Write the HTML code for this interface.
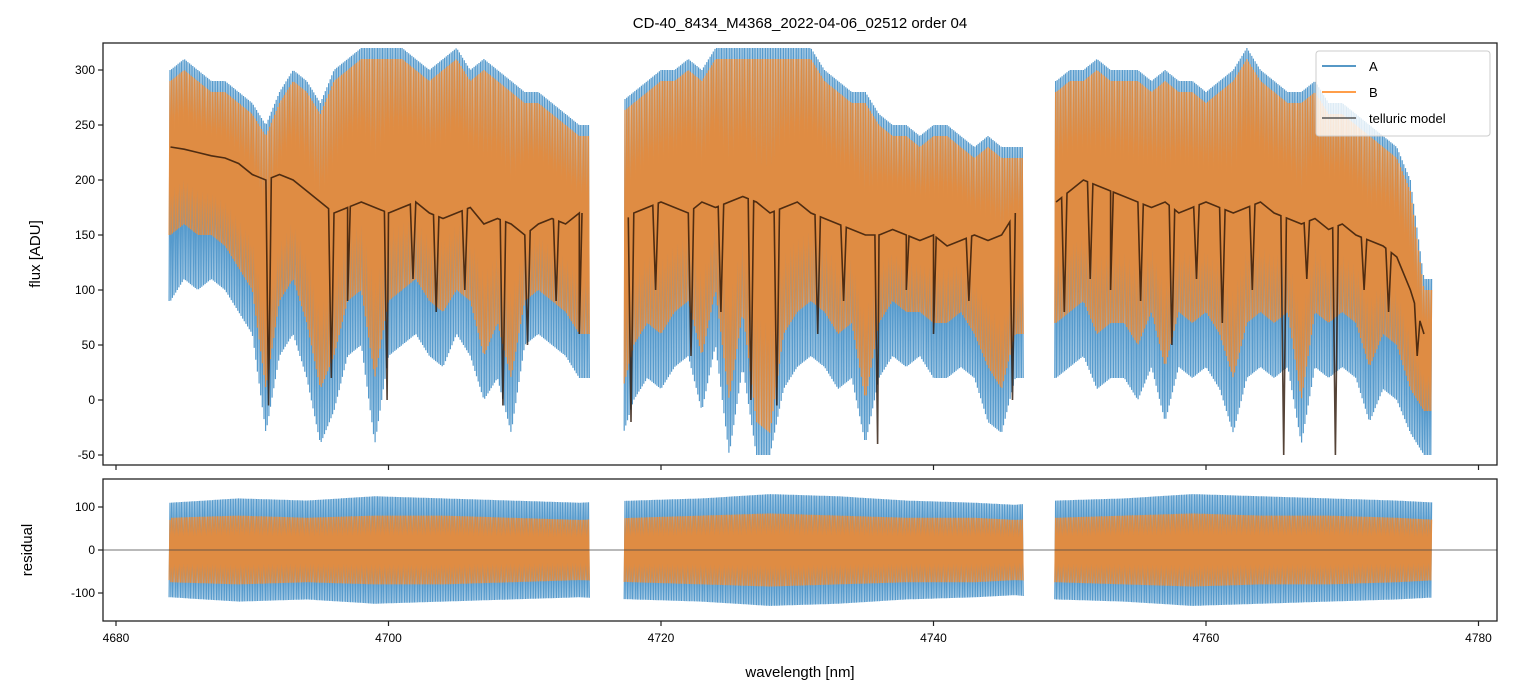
<!DOCTYPE html>
<html><head><meta charset="utf-8"><style>
body{margin:0;background:#fff}
svg{display:block;font-family:"Liberation Sans","DejaVu Sans",sans-serif}
</style></head><body>
<svg id="c" width="1514" height="696" viewBox="0 0 1514 696">
<defs>
<clipPath id="ct"><rect x="103" y="43" width="1394" height="422"/></clipPath>
<clipPath id="cb"><rect x="103" y="479" width="1394" height="142"/></clipPath>
</defs>
<rect width="1514" height="696" fill="#fff"/>
<text x="800" y="28" text-anchor="middle" font-size="15">CD-40_8434_M4368_2022-04-06_02512  order 04</text>
<g id="topg" clip-path="url(#ct)"></g>
<g id="botg" clip-path="url(#cb)"></g>
<g id="axes"></g>
<text x="40" y="254" text-anchor="middle" font-size="15" transform="rotate(-90 40 254)">flux [ADU]</text>
<text x="32" y="550" text-anchor="middle" font-size="15" transform="rotate(-90 32 550)">residual</text>
<text x="800" y="677" text-anchor="middle" font-size="15">wavelength [nm]</text>
<g>
<rect x="1316" y="51" width="174" height="85" rx="3" fill="#fff" fill-opacity="0.8" stroke="#ccc"/>
<line x1="1322" y1="66" x2="1356" y2="66" stroke="#1f77b4" stroke-width="1.5"/>
<text x="1369" y="71" font-size="13">A</text>
<line x1="1322" y1="92" x2="1356" y2="92" stroke="#ff7f0e" stroke-width="1.5"/>
<text x="1369" y="97" font-size="13">B</text>
<line x1="1322" y1="118" x2="1356" y2="118" stroke="#555" stroke-width="1.5"/>
<text x="1369" y="123" font-size="13">telluric model</text>
</g>
</svg>
<script>
const segs=[[4683.9,4714.8],[4717.3,4746.6],[4748.9,4776.6]];
const grid0=4684;
const aHi=[300,310,300,290,290,280,270, 250,280,300,290,270,300,310,320,320,320, 320,310,300,310,320,300,310,300,290,280, 280,270,260,250, null,null, 270,280,290,300, 300,310,300,320,320,320,320,320,320,320, 320,300,290,280,280,260,250,250,240,250, 250,240,230,240,230,230, null,null, 290,300,300,310,300,300,300,290,300,290,290,280, 290,300,320,300,290,280,280,290,270,270,260,250,240,230,200,110];
const aLo=[90,110,100,110,100,80,60, -30,40,60,20,-40,-10,40,50,-40,40, 50,60,40,30,60,40,0,20,-30,50, 60,50,40,20, null,null, -40,0,20,10, 30,40,-10,50,-50,30,-50,-50,10,30, 40,30,10,20,-40,20,40,30,40,20, 20,30,20,-20,-30,20, null,null, 20,30,40,10,20,20,0,30,-20,30,20,30, 10,-30,20,30,20,30,-40,30,20,30,20,-20,10,0,-30,-50];
const bHi=[290,300,290,280,280,270,260, 240,270,290,280,260,290,300,310,310,310, 310,300,290,300,310,290,300,290,280,270, 270,260,250,240, null,null, 260,270,280,290, 290,300,290,310,310,310,310,310,310,310, 310,290,280,270,270,250,240,240,230,240, 240,230,220,230,220,220, null,null, 280,290,290,300,290,290,290,280,290,280,280,270, 280,290,310,290,280,270,270,280,260,260,250,240,230,220,190,100];
const bLo=[150,160,150,150,140,120,100, 10,90,110,70,10,40,90,100,20,90, 100,110,90,80,100,90,40,70,20,90, 100,90,80,60, null,null, 0,50,70,60, 80,90,40,100,0,80,-20,-30,60,80, 90,80,60,70,0,70,90,80,80,70, 70,80,60,30,10,60, null,null, 70,80,90,60,70,70,50,80,30,80,70,80, 60,20,70,80,70,80,0,80,70,80,70,30,60,50,10,-10];
const mBase=[230,228,225,222,220,215,205, 200,205,200,190,180,170,175,180,175,170, 175,180,170,165,170,175,160,165,160,150, 160,165,160,170, null,null, 160,170,175,180, 175,170,180,175,180,185,180,170,175,180, 170,165,160,155,150,150,155,150,145,150, 140,145,150,145,150,170, null,null, 180,190,200,195,190,185,180,175,180,170,175,180, 175,170,175,180,170,165,160,165,155,160,150,145,140,130,100,60];
const dipW=[4691.2,4695.8,4697.0,4699.9,4701.8,4703.5,4705.6,4708.4,4710.2,4712.3,4714.0,4717.8,4719.6,4722.2,4724.4,4726.6,4728.5,4731.5,4733.4,4735.9,4738.0,4740.0,4742.6,4745.8,4749.6,4751.5,4753.0,4755.2,4757.5,4759.3,4761.2,4763.4,4765.7,4767.4,4769.5,4771.6,4773.4,4775.5];
const dipV=[-5,20,90,0,110,80,100,-5,50,90,60,-20,100,40,80,0,-5,60,90,-40,100,60,90,0,80,110,100,90,50,110,70,100,-50,110,-50,100,80,40];
const rW=[4684,4689,4694,4699,4704,4709,4714,4718,4723,4728,4733,4738,4743,4746,4749,4754,4759,4764,4769,4774,4777];
const rAamp=[110,120,115,125,120,115,110,115,120,130,125,115,110,105,115,120,130,125,120,115,110];
const rBamp=[75,80,75,80,80,75,70,75,80,85,80,75,75,70,75,80,85,80,80,75,70];
const xTicks=[4680,4700,4720,4740,4760,4780];
const yTicks=[-50,0,50,100,150,200,250,300];
const rTicks=[-100,0,100];

const NS='http://www.w3.org/2000/svg';
const X=w=>116+(w-4680)*13.625;
const Y=v=>400-v*1.1;
const R=v=>550-v*0.43;
function mk(tag,at,par){const e=document.createElementNS(NS,tag);for(const k in at)e.setAttribute(k,at[k]);par.appendChild(e);return e;}
const topG=document.getElementById('topg'),botG=document.getElementById('botg'),ax=document.getElementById('axes');
function interp(arr,w){const f=w-grid0,i=Math.floor(f),t=f-i;const a=arr[Math.max(i,0)],b=arr[i+1];if(a==null)return b;if(b==null)return a;return a+(b-a)*t;}
function band(hi,lo,col,op,name){
  segs.forEach(s=>{
    let d='',st=0.06,k=0;
    for(let w=s[0];w<=s[1];w+=st,k++){
      const v=(k%2?interp(hi,w):interp(lo,w));
      d+=(d?'L':'M')+X(w).toFixed(1)+' '+Y(v).toFixed(1);
    }
    const p=mk('path',{d:d,fill:'none',stroke:col,'stroke-width':1.2,'stroke-opacity':op},topG);
    
    
  });
}
band(aHi,aLo,'#3a89c4',0.85,'series-a');
band(bHi,bLo,'#f7892a',0.85,'series-b');
segs.forEach(s=>{
  const pts=[];
  for(let w=Math.ceil(s[0]);w<=Math.floor(s[1]);w++)pts.push([w,mBase[w-grid0]]);
  dipW.forEach((dw,j)=>{if(dw>=s[0]&&dw<=s[1]){pts.push([dw-0.2,interp(mBase,dw-0.2)]);pts.push([dw,dipV[j]]);pts.push([dw+0.2,interp(mBase,dw+0.2)]);}});
  pts.sort((a,b)=>a[0]-b[0]);
  const d=pts.map((p,i)=>(i?'L':'M')+X(p[0]).toFixed(1)+' '+Y(p[1]).toFixed(1)).join('');
  const p=mk('path',{d:d,fill:'none',stroke:'#2a1405','stroke-width':1.6,'stroke-opacity':0.8},topG);
  
  
});
function rint(arr,w){for(let i=0;i<rW.length-1;i++){if(w>=rW[i]&&w<=rW[i+1]){const t=(w-rW[i])/(rW[i+1]-rW[i]);return arr[i]+(arr[i+1]-arr[i])*t;}}return arr[arr.length-1];}
function rband(amp,col,op,name){
  segs.forEach(s=>{
    let d='',k=0;
    for(let w=s[0];w<=s[1];w+=0.06,k++){const v=(k%2?1:-1)*rint(amp,w);d+=(d?'L':'M')+X(w).toFixed(1)+' '+R(v).toFixed(1);}
    const p=mk('path',{d:d,fill:'none',stroke:col,'stroke-width':1.2,'stroke-opacity':op},botG);
    
    
  });
}
rband(rAamp,'#3a89c4',0.85,'residual-a');
rband(rBamp,'#f7892a',0.85,'residual-b');
const zl=mk('line',{x1:103,x2:1497,y1:R(0),y2:R(0),stroke:'#444','stroke-width':0.8},botG);


[[43,465],[479,621]].forEach(([t,b],i)=>{
  const f=mk('rect',{x:103,y:t,width:1394,height:b-t,fill:'none',stroke:'#222','stroke-width':1.3},ax);
  
  
  xTicks.forEach(v=>{mk('line',{x1:X(v),x2:X(v),y1:b,y2:b+5,stroke:'#222','stroke-width':1.2},ax);});
});
xTicks.forEach(v=>{
  const t=mk('text',{x:X(v),y:642,'text-anchor':'middle','font-size':12},ax);t.textContent=v;
  
  
});
yTicks.forEach(v=>{
  mk('line',{x1:98,x2:103,y1:Y(v),y2:Y(v),stroke:'#222','stroke-width':1.2},ax);
  const t=mk('text',{x:95,y:Y(v)+4,'text-anchor':'end','font-size':12},ax);t.textContent=v;
  
  
});
rTicks.forEach(v=>{
  mk('line',{x1:98,x2:103,y1:R(v),y2:R(v),stroke:'#222','stroke-width':1.2},ax);
  const t=mk('text',{x:95,y:R(v)+4,'text-anchor':'end','font-size':12},ax);t.textContent=v;
  
  
});
</script>
</body></html>
